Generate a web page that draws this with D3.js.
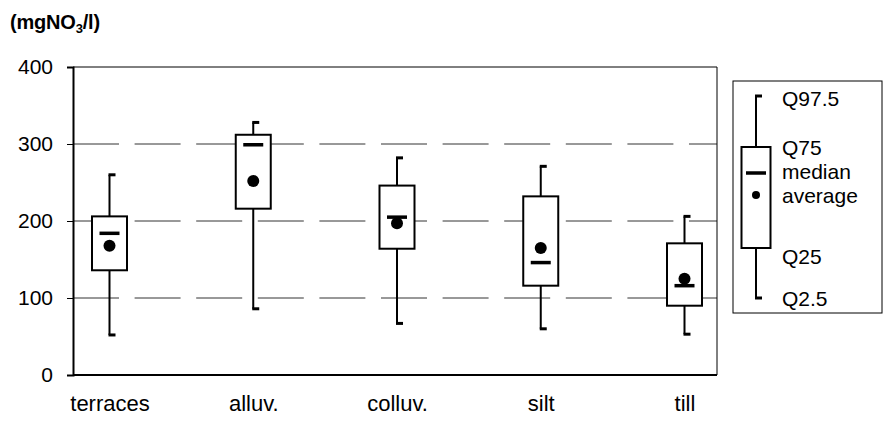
<!DOCTYPE html>
<html lang="en">
<head>
<meta charset="UTF-8">
<script src="https://d3js.org/d3.v7.min.js"></script>
<style>
  body { margin: 0; background: #fff; }
  text { font-family: "Liberation Sans", Arial, sans-serif; fill: #000; }
</style>
</head>
<body>
<div id="chart"></div>
<script>
// data (mg NO3 / l)
const categories = ["terraces", "alluv.", "colluv.", "silt", "till"];
const q025   = [52, 86, 67, 60, 53];
const q25    = [136, 216, 164, 116, 90];
const median = [184, 299, 205, 146, 116];
const mean   = [168, 252, 197, 165, 125];
const q75    = [206, 312, 246, 232, 171];
const q975   = [260, 328, 282, 271, 206];
const yTicks = [0, 100, 200, 300, 400];
const legendLabels = ["Q97.5", "Q75", "median", "average", "Q25", "Q2.5"];

const W = 883, H = 421;
const plot = { left: 73, right: 717, top: 67, bottom: 375 };
const FONT = "Liberation Sans, Arial, sans-serif";

const svg = d3.select("#chart").append("svg")
  .attr("width", W).attr("height", H);

const x = d3.scalePoint()
  .domain(categories)
  .range([plot.left + 2, plot.right + 2])
  .padding(0.24);

const y = d3.scaleLinear()
  .domain([0, 400])
  .range([plot.bottom, plot.top]);

// title
const title = svg.append("text")
  .attr("x", 10).attr("y", 29)
  .attr("font-size", 20).attr("font-weight", "bold")
  .attr("letter-spacing", -0.2);
title.append("tspan").text("(mgNO");
title.append("tspan").attr("font-size", 13).attr("dy", 4).text("3");
title.append("tspan").attr("dy", -4).text("/l)");

// dashed gridlines
svg.append("g").selectAll("line")
  .data([100, 200, 300])
  .join("line")
  .attr("x1", plot.left).attr("x2", plot.right)
  .attr("y1", d => y(d)).attr("y2", d => y(d))
  .attr("stroke", "#333").attr("stroke-width", 1)
  .attr("stroke-dasharray", "46,15.6");

// frame: top and right
svg.append("path")
  .attr("d", `M${plot.left},${y(400)}H${plot.right}V${plot.bottom}`)
  .attr("fill", "none").attr("stroke", "#000").attr("stroke-width", 1);

// y axis
const yAxis = svg.append("g")
  .attr("transform", `translate(${plot.left},0)`)
  .call(d3.axisLeft(y).tickValues(yTicks).tickSize(6).tickPadding(14));
yAxis.select(".domain").attr("stroke-width", 2);
yAxis.selectAll("text").attr("font-size", 21).attr("font-family", FONT);

// x axis
const xAxis = svg.append("g")
  .attr("transform", `translate(0,${plot.bottom})`)
  .call(d3.axisBottom(x).tickSize(0).tickPadding(20));
xAxis.select(".domain").attr("d", `M${plot.left},0H${plot.right}`).attr("stroke-width", 2);
xAxis.selectAll("text").attr("font-size", 22).attr("font-family", FONT);

// box glyph drawer
function drawBox(g, cx, yLo, yQ1, yMed, yMean, yQ3, yHi, bw, medW, r) {
  g.append("line").attr("x1", cx).attr("x2", cx).attr("y1", yHi).attr("y2", yLo)
    .attr("stroke", "#000").attr("stroke-width", 2);
  g.append("rect").attr("x", cx - bw / 2).attr("y", yQ3)
    .attr("width", bw).attr("height", yQ1 - yQ3)
    .attr("fill", "#fff").attr("stroke", "#000").attr("stroke-width", 2);
  // caps
  [yHi, yLo].forEach(v => {
    g.append("line").attr("x1", cx - 1).attr("x2", cx + 6)
      .attr("y1", v).attr("y2", v)
      .attr("stroke", "#000").attr("stroke-width", 3);
  });
  g.append("line").attr("x1", cx - medW / 2).attr("x2", cx + medW / 2)
    .attr("y1", yMed).attr("y2", yMed)
    .attr("stroke", "#000").attr("stroke-width", 3.5);
  g.append("circle").attr("cx", cx).attr("cy", yMean).attr("r", r).attr("fill", "#000");
}

const boxes = svg.append("g");
categories.forEach((c, i) => {
  drawBox(boxes.append("g"), x(c), y(q025[i]), y(q25[i]), y(median[i]),
    y(mean[i]), y(q75[i]), y(q975[i]), 35, 20, 6);
});

// legend
const lg = svg.append("g");
lg.append("rect").attr("x", 733).attr("y", 81).attr("width", 149).attr("height", 232)
  .attr("fill", "#fff").attr("stroke", "#000").attr("stroke-width", 1);
const legY = [96, 147, 173, 195, 248, 298];
drawBox(lg, 756, legY[5], legY[4], legY[2], legY[3], legY[1], legY[0], 29, 20, 4);
lg.selectAll("text.lab")
  .data(legendLabels)
  .join("text")
  .attr("class", "lab")
  .attr("x", 782)
  .attr("y", (d, i) => [106, 155, 179, 203, 264, 306][i])
  .attr("font-size", 21)
  .attr("font-family", FONT)
  .text(d => d);
</script>
</body>
</html>
